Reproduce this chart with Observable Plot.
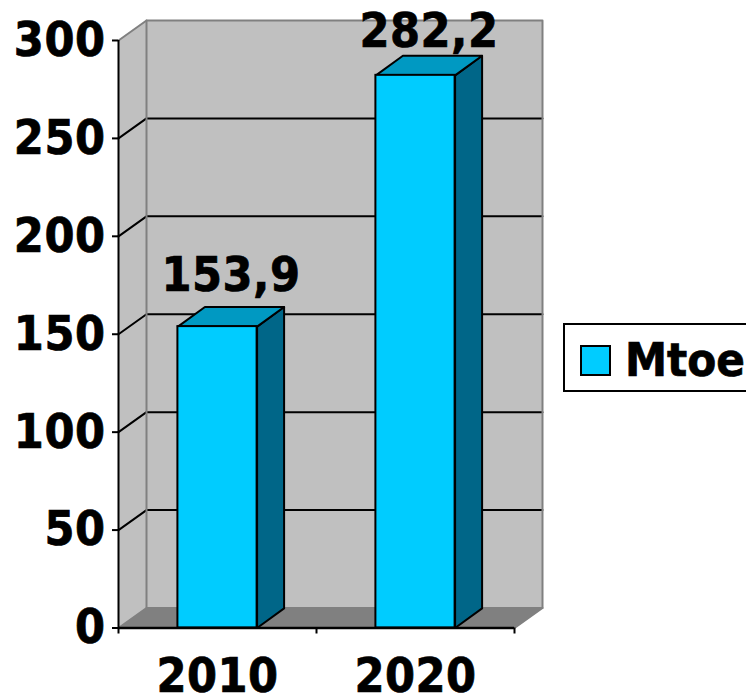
<!DOCTYPE html>
<html><head><meta charset="utf-8">
<script src="https://cdn.jsdelivr.net/npm/d3@7"></script>
<script src="https://cdn.jsdelivr.net/npm/@observablehq/plot@0.6"></script>
<style>
html,body{margin:0;padding:0;background:#fff;overflow:hidden}
#wrap{position:relative;width:746px;height:695px;overflow:hidden;font-family:"DejaVu Sans Condensed","DejaVu Sans",sans-serif}
svg{display:block}
svg text{stroke:#000;stroke-width:.7px;letter-spacing:.5px}
#legend{position:absolute;left:563px;top:323px;width:200px;height:65px;border:2px solid #000;background:#fff;box-sizing:content-box}
#legend i{position:absolute;left:15px;top:20px;width:27px;height:27px;background:#00ccff;border:2px solid #000}
#legend span{position:absolute;left:60px;top:9px;font-size:47px;line-height:52px;font-weight:bold;color:#000;-webkit-text-stroke:.7px #000}
</style></head><body><div id="wrap"></div>
<script>
const categories = ["2010", "2020"];
const values = [153.9, 282.2];
const labels = ["153,9", "282,2"];
const labelLift = [-16, -9];
const yTicks = [0, 50, 100, 150, 200, 250, 300];
const seriesName = "Mtoe";

// oblique projection of the depth axis, in data units
const wallDX = 28 / 198, wallDY = 10.2;
const barDX = 27 / 198, barDY = 10;
const barHalf = 0.2;
const xMin = 0.5, xMax = 2.5, yMax = 300;

const face = (color, pts) => Plot.line(pts.map(([x, y]) => ({x, y})), {
  x: "x", y: "y", fill: color, stroke: "none", curve: "linear-closed"
});
const outlined = (color, pts) => Plot.line(pts.map(([x, y]) => ({x, y})), {
  x: "x", y: "y", fill: color, stroke: "#000", strokeWidth: 2, curve: "linear-closed"
});

const marks = [
  face("#c0c0c0", [[xMin, 0], [xMin + wallDX, wallDY], [xMin + wallDX, yMax + wallDY], [xMin, yMax]]),
  face("#c0c0c0", [[xMin + wallDX, wallDY], [xMax + wallDX, wallDY], [xMax + wallDX, yMax + wallDY], [xMin + wallDX, yMax + wallDY]]),
  face("#808080", [[xMin, 0], [xMax, 0], [xMax + wallDX, wallDY], [xMin + wallDX, wallDY]]),
  ...yTicks.slice(1, -1).map(t => Plot.line([[xMin, t], [xMin + wallDX, t + wallDY], [xMax + wallDX, t + wallDY]], {x: d => d[0], y: d => d[1], stroke: "#000", strokeWidth: 2})),
  Plot.line([[xMin, yMax], [xMin + wallDX, yMax + wallDY], [xMax + wallDX, yMax + wallDY], [xMax + wallDX, wallDY], [xMax, 0]], {x: d => d[0], y: d => d[1], stroke: "#808080", strokeWidth: 2}),
  Plot.line([[xMin + wallDX, yMax + wallDY], [xMin + wallDX, wallDY], [xMax + wallDX, wallDY]], {x: d => d[0], y: d => d[1], stroke: "#808080", strokeWidth: 2}),
  Plot.line([[xMin, 0], [xMin + wallDX, wallDY]], {x: d => d[0], y: d => d[1], stroke: "#808080", strokeWidth: 2}),
];

values.forEach((v, i) => {
  const c = i + 1, l = c - barHalf, r = c + barHalf;
  marks.push(
    outlined("#006688", [[r, 0], [r + barDX, barDY], [r + barDX, v + barDY], [r, v]]),
    outlined("#0099c2", [[l, v], [r, v], [r + barDX, v + barDY], [l + barDX, v + barDY]]),
    Plot.rect([{l, r, v}], {x1: "l", x2: "r", y1: () => 0, y2: "v", fill: "#00ccff", stroke: "#000", strokeWidth: 2})
  );
});

marks.push(
  Plot.ruleY([0], {x1: xMin, x2: xMax, stroke: "#000", strokeWidth: 2.5}),
  Plot.ruleX([xMin], {y1: 0, y2: yMax, stroke: "#000", strokeWidth: 2}),
  Plot.axisY({ticks: yTicks, tickSize: 6, tickPadding: 7, fontSize: 48, fontWeight: "bold", stroke: "#000", strokeWidth: 2, color: "#000", tickFormat: d => String(d), label: null}),
  Plot.axisX({ticks: [0.5, 1.5, 2.5], tickSize: 6, tickFormat: () => "", stroke: "#000", strokeWidth: 2, label: null}),
  Plot.axisX({ticks: [1, 2], tickSize: 0, tickPadding: 30, fontSize: 48, fontWeight: "bold", tickFormat: d => categories[d - 1], label: null, fill: "#000"}),
  ...values.map((v, i) => Plot.text([{x: i + 1 + barDX / 2, y: v + barDY, t: labels[i]}], {
    x: "x", y: "y", text: "t", fontSize: 48, fontWeight: "bold", fill: "#000", textAnchor: "middle", lineAnchor: "bottom", dy: labelLift[i]
  }))
);

const chart = Plot.plot({
  width: 746, height: 695,
  marginLeft: 118, marginRight: 204, marginTop: 20, marginBottom: 67.5,
  style: {fontFamily: '"DejaVu Sans Condensed", "DejaVu Sans", sans-serif', background: "#fff", overflow: "visible"},
  x: {type: "linear", domain: [xMin, xMax + wallDX], axis: null},
  y: {type: "linear", domain: [0, yMax + wallDY], axis: null},
  marks
});
const wrap = document.getElementById("wrap");
wrap.appendChild(chart);
const lg = document.createElement("div");
lg.id = "legend";
lg.innerHTML = "<i></i><span></span>";
lg.querySelector("span").textContent = seriesName;
wrap.appendChild(lg);
</script></body></html>
